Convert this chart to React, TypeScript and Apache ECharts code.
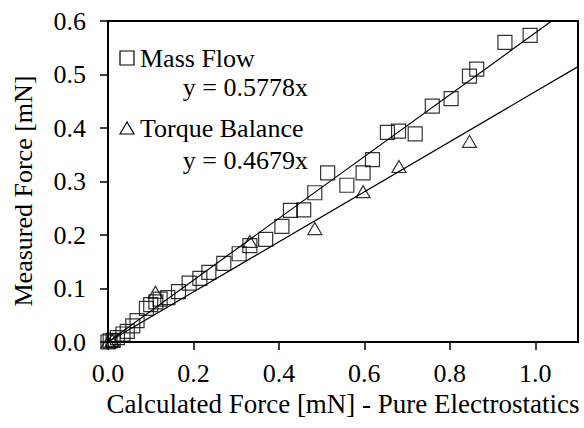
import React, { useEffect, useRef } from "react";
import * as echarts from "echarts";

const massFlowX = [0, 0.005, 0.012, 0.022, 0.035, 0.045, 0.058, 0.068, 0.09, 0.1, 0.112, 0.122, 0.14, 0.165, 0.19, 0.215, 0.236, 0.271, 0.307, 0.332, 0.369, 0.407, 0.427, 0.458, 0.484, 0.514, 0.559, 0.597, 0.619, 0.654, 0.68, 0.719, 0.759, 0.803, 0.846, 0.863, 0.929, 0.988];
const massFlowY = [0, 0.002, 0.003, 0.008, 0.015, 0.02, 0.03, 0.04, 0.063, 0.07, 0.075, 0.08, 0.083, 0.094, 0.11, 0.119, 0.13, 0.147, 0.165, 0.18, 0.192, 0.216, 0.246, 0.247, 0.279, 0.316, 0.293, 0.316, 0.341, 0.392, 0.394, 0.389, 0.441, 0.455, 0.497, 0.51, 0.56, 0.573];
const torqueX = [0, 0.01, 0.111, 0.332, 0.484, 0.597, 0.681, 0.846];
const torqueY = [0, 0.003, 0.093, 0.188, 0.212, 0.281, 0.328, 0.375];
const massFlowSlope = 0.5778;
const torqueSlope = 0.4679;
const xTicks = ["0.0", "0.2", "0.4", "0.6", "0.8", "1.0"];
const yTicks = ["0.0", "0.1", "0.2", "0.3", "0.4", "0.5", "0.6"];

const X_MAX = 1.1;
const Y_MAX = 0.6;
const FONT = "Liberation Serif";

export default function App() {
  const ref = useRef<HTMLDivElement>(null);
  useEffect(() => {
    if (!ref.current) return;
    const chart = echarts.init(ref.current, undefined, { renderer: "svg" });
    const fitEnd = (s: number) => {
      const xe = Math.min(X_MAX, Y_MAX / s);
      return [[0, 0], [xe, s * xe]];
    };
    const axisCommon = {
      axisLine: { show: true, lineStyle: { color: "#000", width: 2 } },
      axisTick: { show: true, length: 8, lineStyle: { color: "#000", width: 1.5 } },
      splitLine: { show: false },
    };
    const txt = (text: string, x: number, y: number, align: string, extra: any = {}) => ({
      type: "text", x, y, ...extra,
      style: { text, fill: "#000", fontFamily: FONT, fontSize: 26, textAlign: align, textVerticalAlign: "middle" },
    });
    chart.setOption({
      animation: false,
      grid: { left: 108, right: 6, top: 21, bottom: 86, show: true, borderColor: "#000", borderWidth: 2, backgroundColor: "transparent" },
      xAxis: {
        type: "value", min: 0, max: X_MAX, interval: 0.2,
        ...axisCommon,
        axisLabel: {
          showMaxLabel: false, margin: 18, color: "#000", fontFamily: FONT, fontSize: 26,
          formatter: (v: number) => xTicks.find((t) => Math.abs(parseFloat(t) - v) < 1e-6) ?? "",
        },
        name: "Calculated Force [mN] - Pure Electrostatics",
        nameLocation: "middle", nameGap: 44,
        nameTextStyle: { color: "#000", fontFamily: FONT, fontSize: 27 },
      },
      yAxis: {
        type: "value", min: 0, max: Y_MAX, interval: 0.1,
        ...axisCommon,
        axisLabel: {
          margin: 22, color: "#000", fontFamily: FONT, fontSize: 26,
          formatter: (v: number) => yTicks.find((t) => Math.abs(parseFloat(t) - v) < 1e-6) ?? "",
        },
      },
      graphic: [
        txt("Measured Force [mN]", 23, 191, "center", { rotation: Math.PI / 2 }),
        { type: "rect", shape: { x: 120, y: 51, width: 14, height: 14 }, style: { fill: "none", stroke: "#000", lineWidth: 1.2 } },
        txt("Mass Flow", 140, 58, "left"),
        txt(`y = ${massFlowSlope}x`, 308, 87, "right"),
        { type: "polygon", shape: { points: [[127, 122], [120, 134], [134, 134]] }, style: { fill: "none", stroke: "#000", lineWidth: 1.2 } },
        txt("Torque Balance", 140, 128, "left"),
        txt(`y = ${torqueSlope}x`, 308, 160, "right"),
      ],
      series: [
        {
          type: "line", data: fitEnd(massFlowSlope), showSymbol: false, symbol: "none",
          lineStyle: { color: "#000", width: 1.2 }, silent: true, z: 1,
        },
        {
          type: "line", data: fitEnd(torqueSlope), showSymbol: false, symbol: "none",
          lineStyle: { color: "#000", width: 1.2 }, silent: true, z: 1,
        },
        {
          type: "scatter", name: "Mass Flow", data: massFlowX.map((x, i) => [x, massFlowY[i]]),
          symbol: "rect", symbolSize: 14, clip: false,
          itemStyle: { color: "rgba(0,0,0,0)", borderColor: "#000", borderWidth: 1.2 }, z: 2,
        },
        {
          type: "scatter", name: "Torque Balance", data: torqueX.map((x, i) => [x, torqueY[i]]),
          symbol: "triangle", symbolSize: [14, 12], clip: false,
          itemStyle: { color: "rgba(0,0,0,0)", borderColor: "#000", borderWidth: 1.2 }, z: 2,
        },
      ],
    });
    return () => chart.dispose();
  }, []);
  return <div ref={ref} style={{ width: 584, height: 428, position: "absolute", left: 0, top: 0 }} />;
}
